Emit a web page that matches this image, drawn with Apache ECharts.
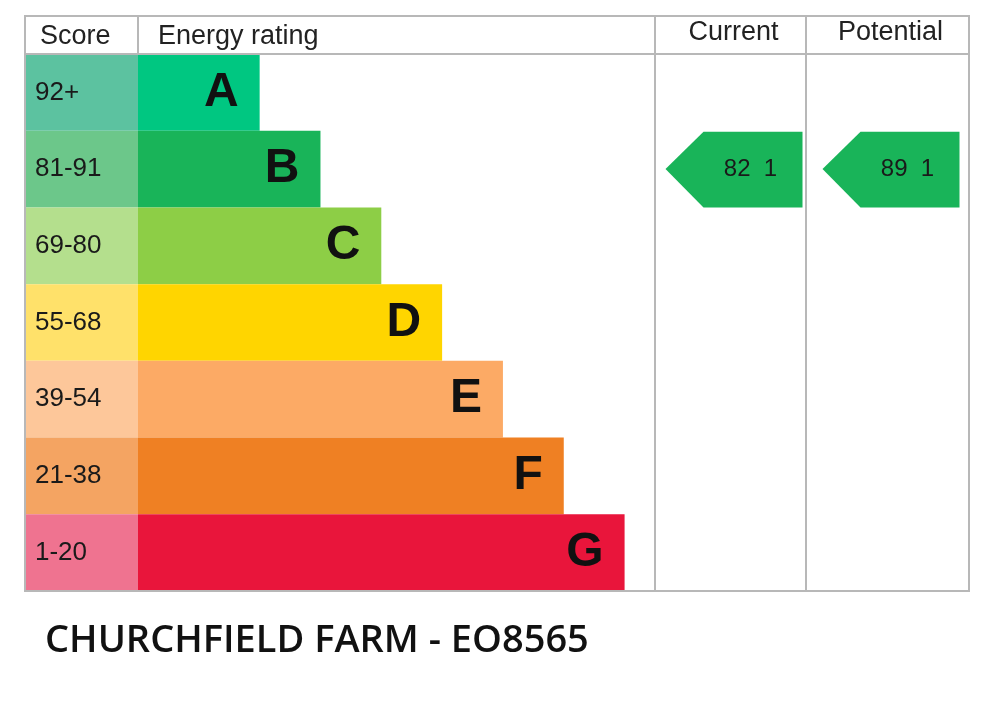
<!DOCTYPE html>
<html><head><meta charset="utf-8">
<script src="https://cdn.jsdelivr.net/npm/echarts@6/dist/echarts.min.js"></script>
<style>html,body{margin:0;background:#fff}#c{width:1000px;height:707px}</style>
</head><body><div id="c"></div>
<script>
const bands = ['A', 'B', 'C', 'D', 'E', 'F', 'G'];
const scores = ['92+', '81-91', '69-80', '55-68', '39-54', '21-38', '1-20'];
const barLengths = [2, 3, 4, 5, 6, 7, 8];
const barColors = ['#00c781', '#19b459', '#8dce46', '#ffd500', '#fcaa65', '#ef8023', '#e9153b'];
const scoreColors = ['#5cc2a0', '#6cc78a', '#b4df8d', '#ffe16a', '#fdc79a', '#f4a462', '#ef7390'];
const columns = ['Current', 'Potential'];
const ratings = [[0, 'B', 82], [1, 'B', 89]];
const title = 'CHURCHFIELD FARM - EO8565';

const chart = echarts.init(document.getElementById('c'));
const line = '#b8b8b8';
const font = 'Arial, Liberation Sans, sans-serif';
const gridTop = 54, gridH = 537;

chart.setOption({
  animation: false,
  grid: [
    { left: 25, top: gridTop, width: 113, height: gridH },
    { left: 138, top: gridTop, width: 517, height: gridH },
    { left: 655, top: gridTop, width: 314, height: gridH }
  ],
  xAxis: [
    { gridIndex: 0, type: 'value', min: 0, max: 1, show: false },
    { gridIndex: 1, type: 'value', min: 0, max: 8.5, show: false },
    { gridIndex: 2, type: 'category', data: columns, position: 'top',
      boundaryGap: true,
      axisLine: { show: false }, axisTick: { show: false },
      axisLabel: { margin: 8, fontSize: 27, color: '#222', fontFamily: font } }
  ],
  yAxis: [0, 1, 2].map(i => ({ gridIndex: i, type: 'category', data: bands, inverse: true, show: false })),
  series: [
    { type: 'bar', xAxisIndex: 0, yAxisIndex: 0, barCategoryGap: 0,
      data: scores.map((s, i) => ({ value: 1, itemStyle: { color: scoreColors[i] },
        label: { show: true, formatter: s } })),
      label: { position: 'insideLeft', offset: [5, 0], fontSize: 26, color: '#1a1a1a', fontFamily: font } },
    { type: 'bar', xAxisIndex: 1, yAxisIndex: 1, barCategoryGap: 0,
      data: barLengths.map((v, i) => ({ value: v, itemStyle: { color: barColors[i] } })),
      label: { show: true, position: 'insideRight', offset: [-16, 0], formatter: p => bands[p.dataIndex],
        fontSize: 48, fontWeight: 'bold', color: '#111', fontFamily: font } },
    { type: 'custom', xAxisIndex: 2, yAxisIndex: 2,
      data: ratings,
      renderItem: (params, api) => {
        const c = api.coord([api.value(0), api.value(1)]);
        const bh = api.size([0, 1])[1];
        const bw = 137;
        const x0 = c[0] - 76 + 8, y0 = c[1] - bh / 2 + 1, y1 = c[1] + bh / 2;
        const tip = 38;
        return {
          type: 'group',
          children: [
            { type: 'polygon', shape: { points: [[x0, c[1]], [x0 + tip, y0], [x0 + bw, y0], [x0 + bw, y1], [x0 + tip, y1]] },
              style: { fill: '#19b459' } },
            { type: 'text', x: x0 + 85, y: c[1],
              style: { text: api.value(2) + '  ' + api.value(1), fill: '#1a1a1a', fontSize: 24,
                fontFamily: font, align: 'center', verticalAlign: 'middle' } }
          ]
        };
      } }
  ],
  graphic: [
    { type: 'rect', shape: { x: 25, y: 16, width: 944, height: 575 }, style: { fill: 'none', stroke: line, lineWidth: 2 }, z: 10 },
    { type: 'line', shape: { x1: 25, y1: 54, x2: 969, y2: 54 }, style: { stroke: line, lineWidth: 2 }, z: 10 },
    { type: 'line', shape: { x1: 138, y1: 16, x2: 138, y2: 54 }, style: { stroke: line, lineWidth: 2 }, z: 10 },
    { type: 'line', shape: { x1: 655, y1: 16, x2: 655, y2: 591 }, style: { stroke: line, lineWidth: 2 }, z: 10 },
    { type: 'line', shape: { x1: 806, y1: 16, x2: 806, y2: 591 }, style: { stroke: line, lineWidth: 2 }, z: 10 },
    { type: 'text', x: 40, y: 37, style: { text: 'Score', fontSize: 27, fill: '#222', fontFamily: font, verticalAlign: 'middle' } },
    { type: 'text', x: 158, y: 37, style: { text: 'Energy rating', fontSize: 27, fill: '#222', fontFamily: font, verticalAlign: 'middle' } },
    { type: 'text', x: 45, y: 641, style: { text: title, fontSize: 38, fill: '#111', fontFamily: 'Open Sans, sans-serif', fontWeight: 600, verticalAlign: 'middle' } }
  ]
});
</script></body></html>
